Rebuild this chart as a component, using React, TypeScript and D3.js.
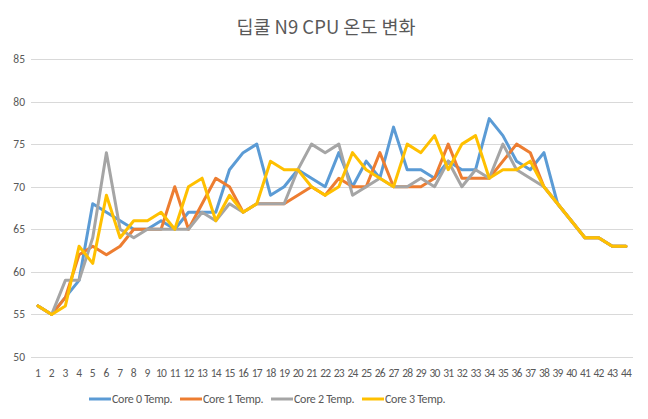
import { useEffect, useRef } from "react";
import * as d3 from "d3";

const labels = d3.range(1, 45).map(String);

const core0 = [56, 55, 57, 59, 68, 67, 66, 65, 65, 66, 65, 67, 67, 67, 72, 74, 75, 69, 70, 72, 71, 70, 74, 70, 73, 71, 77, 72, 72, 71, 73, 72, 72, 78, 76, 73, 72, 74, 68, 66, 64, 64, 63, 63];
const core1 = [56, 55, 57, 62, 63, 62, 63, 65, 65, 65, 70, 65, 68, 71, 70, 67, 68, 68, 68, 69, 70, 69, 71, 70, 70, 74, 70, 70, 70, 71, 75, 71, 71, 71, 73, 75, 74, 70, 68, 66, 64, 64, 63, 63];
const core2 = [56, 55, 59, 59, 64, 74, 65, 64, 65, 65, 65, 65, 67, 66, 68, 67, 68, 68, 68, 72, 75, 74, 75, 69, 70, 71, 70, 70, 71, 70, 73, 70, 72, 71, 75, 72, 71, 70, 68, 66, 64, 64, 63, 63];
const core3 = [56, 55, 56, 63, 61, 69, 64, 66, 66, 67, 65, 70, 71, 66, 69, 67, 68, 73, 72, 72, 70, 69, 70, 74, 72, 71, 70, 75, 74, 76, 72, 75, 76, 71, 72, 72, 73, 70, 68, 66, 64, 64, 63, 63];

const seriesNames = ["Core 0 Temp.", "Core 1 Temp.", "Core 2 Temp.", "Core 3 Temp."];
const seriesValues = [core0, core1, core2, core3];
const colors = ["#5B9BD5", "#ED7D31", "#A5A5A5", "#FFC000"];
const yTicks = [50, 55, 60, 65, 70, 75, 80, 85];

const W = 648;
const H = 419;
const FONT = "Calibri, 'Liberation Sans', 'Noto Sans', sans-serif";

export default function App() {
  const ref = useRef<SVGSVGElement>(null);

  useEffect(() => {
    if (!ref.current) return;
    const svg = d3.select(ref.current);
    svg.selectAll("*").remove();

    const x = d3.scaleBand<string>().domain(labels).range([31.2, 632.8]);
    const y = d3.scaleLinear().domain([50, 85]).range([357, 59]);
    const cx = (i: number) => (x(labels[i]) ?? 0) + x.bandwidth() / 2;

    svg.append("rect")
      .attr("x", 0.5).attr("y", 0.5)
      .attr("width", W - 1).attr("height", H - 1)
      .attr("fill", "#fff").attr("stroke", "#D9D9D9");

    svg.append("text")
      .attr("x", 326).attr("y", 34)
      .attr("text-anchor", "middle")
      .attr("font-family", "'Noto Sans CJK KR', sans-serif")
      .attr("font-size", 18.5)
      .attr("fill", "#595959")
      .text("딥쿨 N9 CPU 온도 변화");

    // gridlines + y labels
    yTicks.forEach((t) => {
      svg.append("line")
        .attr("x1", 31).attr("x2", 633)
        .attr("y1", Math.round(y(t)) + 0.5).attr("y2", Math.round(y(t)) + 0.5)
        .attr("stroke", "#D9D9D9").attr("stroke-width", 1);
      svg.append("text")
        .attr("x", 25).attr("y", y(t) + 4)
        .attr("text-anchor", "end")
        .attr("font-family", FONT).attr("font-size", 11.5)
        .attr("fill", "#595959")
        .text(t);
    });

    // x labels
    labels.forEach((l, i) => {
      svg.append("text")
        .attr("x", cx(i)).attr("y", 377)
        .attr("text-anchor", "middle")
        .attr("font-family", FONT).attr("font-size", 11.5)
        .attr("letter-spacing", l.length > 1 ? -0.8 : 0)
        .attr("fill", "#595959")
        .text(l);
    });

    const line = d3.line<number>()
      .x((_, i) => cx(i))
      .y((d) => y(d));

    seriesValues.forEach((vals, s) => {
      svg.append("path")
        .datum(vals)
        .attr("d", line)
        .attr("fill", "none")
        .attr("stroke", colors[s])
        .attr("stroke-width", 3)
        .attr("stroke-linejoin", "round")
        .attr("stroke-linecap", "round");
    });

    // legend
    seriesNames.forEach((name, s) => {
      const lx = 89 + s * 91;
      svg.append("line")
        .attr("x1", lx).attr("x2", lx + 22)
        .attr("y1", 399).attr("y2", 399)
        .attr("stroke", colors[s]).attr("stroke-width", 3);
      svg.append("text")
        .attr("x", lx + 23).attr("y", 403)
        .attr("font-family", FONT).attr("font-size", 12)
        .attr("letter-spacing", -0.3)
        .attr("fill", "#595959")
        .text(name);
    });
  }, []);

  return (
    <div style={{ width: W, height: H, margin: -8 }}>
      <svg ref={ref} width={W} height={H} style={{ display: "block" }} />
    </div>
  );
}
